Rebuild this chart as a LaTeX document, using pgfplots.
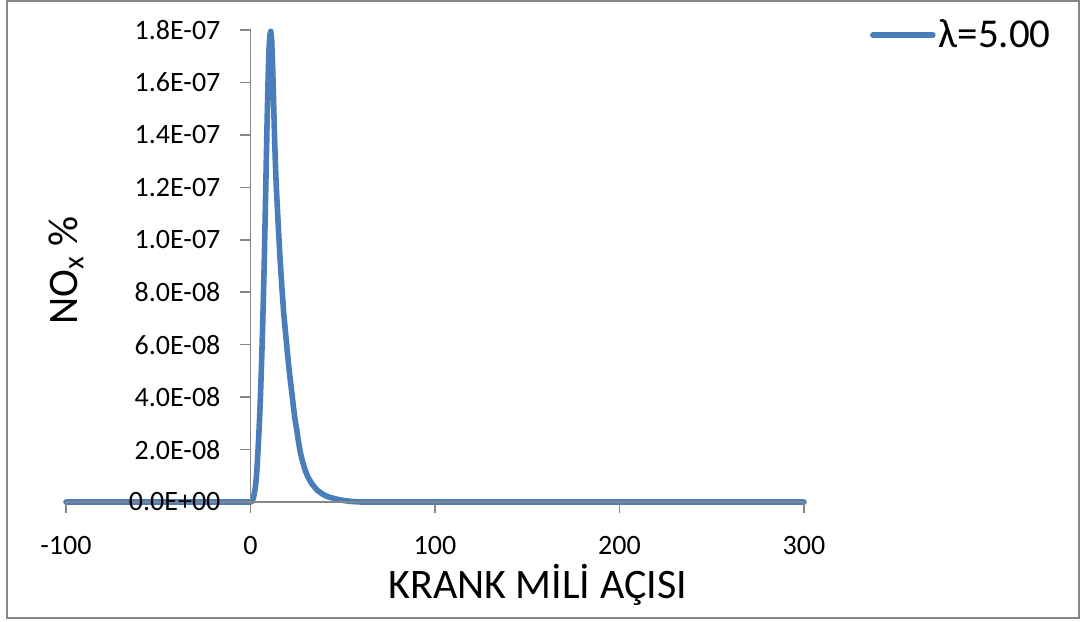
\documentclass[border=0pt]{standalone}
\usepackage{fontspec}
\setmainfont{Carlito}
\usepackage{pgfplots}
\pgfplotsset{compat=1.18}
\definecolor{serblue}{HTML}{4A7EBB}
\definecolor{axgray}{HTML}{868686}
\begin{document}
\begin{tikzpicture}
\useasboundingbox (0,0) rectangle (540pt,310.5pt);
\draw[axgray, line width=1pt] (3.5pt,1.5pt) rectangle (539.5pt,310pt);
\begin{axis}[
  at={(33pt,59.5pt)}, anchor=south west,
  scale only axis, width=369pt, height=236pt,
  xmin=-100, xmax=300, ymin=0, ymax=1.8e-7,
  axis lines=middle, axis on top=true,
  axis line style={draw=axgray, line width=0.8pt, -},
  hide obscured x ticks=false, hide obscured y ticks=false,
  xtick={-100,0,100,200,300},
  ytick={0,2e-8,4e-8,6e-8,8e-8,1e-7,1.2e-7,1.4e-7,1.6e-7,1.8e-7},
  yticklabels={0.0E+00,2.0E-08,4.0E-08,6.0E-08,8.0E-08,1.0E-07,1.2E-07,1.4E-07,1.6E-07,1.8E-07},
  scaled y ticks=false,
  xticklabel={\pgfmathprintnumber[assume math mode=true]{\tick}},
  tick align=outside, major tick length=5.5pt,
  tick style={axgray, line width=0.8pt},
  ticklabel style={font=\fontsize{14}{16}\selectfont, text=black},
  xticklabel style={yshift=-8pt},
  yticklabel style={xshift=-6pt},
  every axis x label/.style={at={(axis description cs:0.639,-0.176)}, anchor=center, font=\fontsize{21}{24}\selectfont},
  every axis y label/.style={at={(axis description cs:0.0,0.49)}, rotate=90, anchor=center, font=\fontsize{21}{24}\selectfont},
  xlabel={KRANK MİLİ AÇISI},
  ylabel={NO\textsubscript{x} \%},
  legend style={draw=none, fill=none, at={(1.089,0.989)}, anchor=west, inner sep=0pt,
    font=\fontsize{20.5}{23}\selectfont, nodes={inner sep=1.5pt}},
  legend image code/.code={\draw[#1] (0pt,0pt) -- (30pt,0pt);},
  clip=false,
]
\addplot[serblue, line width=2.8pt, line join=round, line cap=round] coordinates {
(-100,0) (-50,0) (0,0) (0.5,0.01e-8) (1,0.05e-8) (1.5,0.14e-8) (2,0.3e-8) (2.5,0.5e-8)
(3,0.8e-8) (3.5,1.25e-8) (4,1.87e-8) (4.5,2.55e-8) (5,3.3e-8) (5.5,4.25e-8) (6,5.3e-8)
(6.5,6.5e-8) (7,7.8e-8) (7.5,9.3e-8) (8,11e-8) (8.5,12.8e-8) (9,14.5e-8) (9.5,16e-8)
(10,17.2e-8) (10.5,17.8e-8) (11,17.95e-8) (11.5,17.6e-8) (12,16.6e-8) (12.5,15.3e-8)
(13,14e-8) (13.5,12.9e-8) (14,12e-8) (15,10.6e-8) (16,9.3e-8) (17,8.2e-8) (18,7.2e-8)
(19.2,6.3e-8) (20,5.7e-8) (21,5.0e-8) (22,4.4e-8) (23,3.8e-8) (24,3.2e-8) (25.2,2.7e-8)
(26,2.3e-8) (27,1.9e-8) (28,1.6e-8) (29.7,1.2e-8) (31,0.97e-8) (33.3,0.69e-8) (36,0.46e-8)
(38.8,0.31e-8) (42,0.2e-8) (46,0.12e-8) (50,0.06e-8) (55,0.02e-8) (60,0)
(100,0) (200,0) (300,0)
};
\addlegendentry{λ=5.00}
\end{axis}
\end{tikzpicture}
\end{document}
